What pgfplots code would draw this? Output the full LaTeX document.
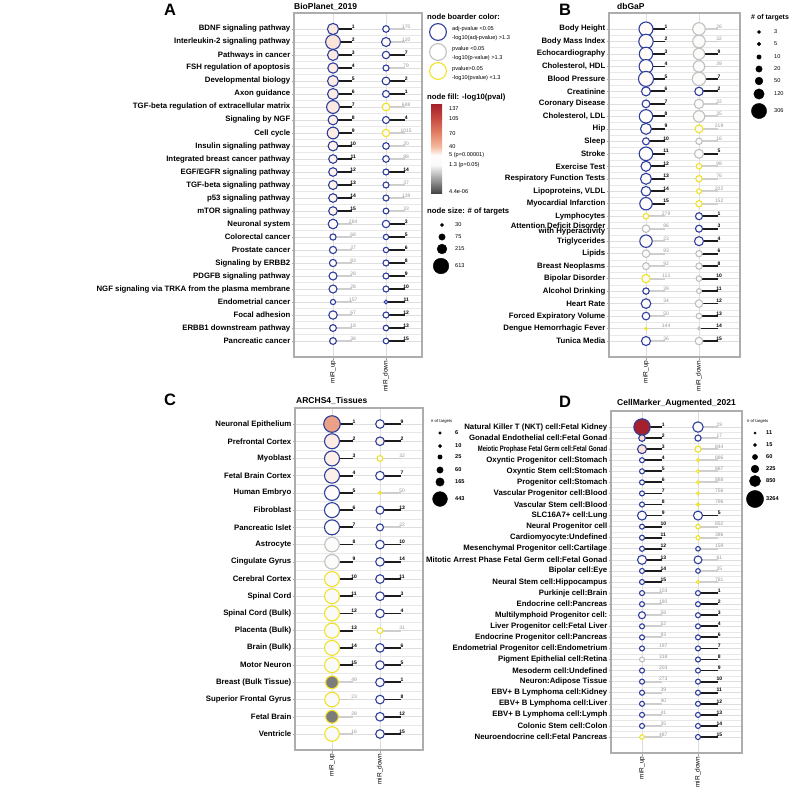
\documentclass[border=0pt]{standalone}
\usepackage{fontspec}
\setmainfont{Liberation Sans}
\usepackage{graphicx}
\usepackage{pgfplots}
\usepackage{pgfplotstable}
\pgfplotsset{compat=1.18}

% border colours of the nodes
\definecolor{bdB}{RGB}{46,62,156}
\definecolor{bdG}{RGB}{192,192,192}
\definecolor{bdY}{RGB}{240,226,40}
% segments and their labels
\definecolor{segK}{RGB}{28,28,28}
\definecolor{segG}{RGB}{206,206,206}
\definecolor{labG}{RGB}{150,150,150}
% fill scale stops (-log10 p)
\definecolor{cm0}{RGB}{70,70,70}
\definecolor{cm1}{RGB}{250,250,250}
\definecolor{cm2}{RGB}{255,253,251}
\definecolor{cm3}{RGB}{245,188,162}
\definecolor{cm4}{RGB}{228,132,104}
\definecolor{cm5}{RGB}{200,76,66}
\definecolor{cm6}{RGB}{165,32,44}

\pgfplotsset{colormap={fillmap}{rgb255(0pt)=(70,70,70) rgb255(1pt)=(250,250,250) rgb255(5pt)=(255,253,251) rgb255(40pt)=(245,188,162) rgb255(70pt)=(228,132,104) rgb255(105pt)=(200,76,66) rgb255(137pt)=(165,32,44)}}

\newcommand\rowfont{\fontsize{7.8}{8}\selectfont\bfseries}
\newcommand\labfont{\fontsize{5}{5}\selectfont}
\newcommand\legfont{\fontsize{5.6}{6}\selectfont}
\newcommand\headfont{\fontsize{7.7}{8}\selectfont\bfseries}

\pgfplotsset{
  panel/.style={
    scale only axis, anchor=north west, y dir=reverse,
    xtick={0,1}, xticklabels={miR\_up,miR\_down},
    xticklabel style={rotate=90, anchor=east, font=\fontsize{6.5}{7}\selectfont, inner sep=1pt},
    yticklabel style={font=\rowfont, inner sep=1pt, align=right},
    tick align=outside, major tick length=2.5pt, minor tick length=0pt,
    xtick pos=left, ytick pos=left,
    tick style={draw=black!35, line width=0.5pt},
    minor y tick num=1,
    grid=both,
    major grid style={draw=black!13, line width=0.6pt},
    minor grid style={draw=black!9, line width=0.45pt},
    axis line style={draw=black!32, line width=1.3pt},
    clip=false,
  },
  % nodes of one border class: #1 border colour, #2 range of the class code
  pts/.style 2 args={
    scatter, only marks, mark=*,
    point meta=\thisrow{fv}, point meta min=0, point meta max=137,
    colormap name=fillmap,
    visualization depends on={\thisrow{r}\as\rr},
    scatter/use mapped color={fill=mapped color, draw=#1, line width=1.1pt},
    scatter/@pre marker code/.append style={/tikz/mark size=\rr},
    restrict expr to domain={\thisrow{bc}}{#2},
  },
  topseg/.style={draw=segK, line width=1.8pt, quiver={u=#1, v=0},
    restrict expr to domain={\thisrow{hi}}{0.5:1.5}},
  restseg/.style={draw=segG, line width=1.8pt, quiver={u=#1, v=0},
    restrict expr to domain={\thisrow{hi}}{-0.5:0.5}},
  toplab/.style={only marks, mark=none, nodes near coords, point meta=explicit symbolic,
    nodes near coords align=horizontal,
    every node near coord/.append style={font=\labfont\bfseries, text=black, inner sep=0.6pt},
    restrict expr to domain={\thisrow{hi}}{0.5:1.5}},
  restlab/.style={only marks, mark=none, nodes near coords, point meta=explicit symbolic,
    nodes near coords align=horizontal,
    every node near coord/.append style={font=\labfont, text=labG, inner sep=0.6pt},
    restrict expr to domain={\thisrow{hi}}{-0.5:0.5}},
}

% y: row, x: 0 = miR_up, 1 = miR_down, lab: rank or target count,
% hi: ranked among the top 15, bc: border class (0 adj-p<0.05, 1 p<0.05, 2 p>0.05),
% fv: -log10(p), r: node radius
\pgfplotstableread{
y x lab hi bc fv r
1 0 1 1 0 16 5.6
2 0 2 1 0 18 7.4
3 0 3 1 0 15 5.5
4 0 4 1 0 14 5.2
5 0 5 1 0 14 5.5
6 0 6 1 0 14 5.5
7 0 7 1 0 15 6.4
8 0 8 1 0 12 4.9
9 0 9 1 0 14 5.8
10 0 10 1 0 11 4.9
11 0 11 1 0 10 4.3
12 0 12 1 0 10 4.3
13 0 13 1 0 10 4.5
14 0 14 1 0 10 4.3
15 0 15 1 0 10 4.3
16 0 284 0 0 4 4.8
17 0 68 0 0 4 3.1
18 0 37 0 0 4 3.6
19 0 83 0 0 4 3.6
20 0 28 0 0 4 4.0
21 0 28 0 0 4 4.0
22 0 157 0 0 4 2.6
23 0 67 0 0 4 4.2
24 0 18 0 0 4 3.4
25 0 38 0 0 4 3.4
1 1 170 0 0 4 3.3
2 1 120 0 0 4 4.5
3 1 7 1 0 6 3.7
4 1 79 0 0 4 3.0
5 1 2 1 0 7 3.9
6 1 1 1 0 7 3.5
7 1 688 0 2 1.2 3.9
8 1 4 1 0 6 3.5
9 1 1015 0 2 1.2 3.7
10 1 20 0 0 4 3.3
11 1 88 0 0 4 3.3
12 1 14 1 0 5 3.0
13 1 37 0 0 4 3.0
14 1 139 0 0 4 3.0
15 1 33 0 0 4 2.9
16 1 3 1 0 6 3.7
17 1 5 1 0 6 2.7
18 1 6 1 0 6 2.7
19 1 8 1 0 6 3.0
20 1 9 1 0 6 3.0
21 1 10 1 0 5 3.0
22 1 11 1 0 5 1.9
23 1 12 1 0 5 3.0
24 1 13 1 0 5 2.8
25 1 15 1 0 5 2.8
}\tabA

\pgfplotstableread{
y x lab hi bc fv r
1 0 1 1 0 6 7.0
2 0 2 1 0 6 7.2
3 0 3 1 0 6 6.7
4 0 4 1 0 6 6.9
5 0 5 1 0 6 7.5
6 0 6 1 0 5 4.5
7 0 7 1 0 5 3.9
8 0 8 1 0 5 6.7
9 0 9 1 0 5 5.5
10 0 10 1 0 5 3.5
11 0 11 1 0 5 6.8
12 0 12 1 0 5 5.0
13 0 13 1 0 5 5.5
14 0 14 1 0 5 4.8
15 0 15 1 0 5 6.2
16 0 279 0 2 1.2 2.8
17 0 86 0 1 2 3.8
18 0 23 0 0 4 6.2
19 0 93 0 1 2 3.8
20 0 92 0 1 2 3.5
21 0 113 0 2 1.2 4.2
22 0 39 0 0 4 3.2
23 0 34 0 0 4 4.8
24 0 50 0 0 4 3.8
25 0 144 0 2 1.2 1.2
26 0 36 0 0 4 4.5
1 1 26 0 1 2 6.3
2 1 32 0 1 2 6.3
3 1 9 1 1 2 5.7
4 1 39 0 1 2 5.7
5 1 7 1 1 2 6.7
6 1 2 1 0 4 4.2
7 1 22 0 1 2 4.7
8 1 35 0 1 2 5.7
9 1 219 0 2 1.2 4.0
10 1 16 0 1 2 3.2
11 1 5 1 1 2 4.5
12 1 98 0 2 1.2 2.8
13 1 76 0 2 1.2 3.2
14 1 202 0 2 1.2 2.5
15 1 152 0 2 1.2 3.2
16 1 1 1 0 4 3.5
17 1 3 1 0 4 3.5
18 1 4 1 0 4 4.5
19 1 6 1 1 2 3.2
20 1 8 1 1 2 3.2
21 1 10 1 1 2 2.8
22 1 11 1 1 2 2.5
23 1 12 1 1 2 3.8
24 1 13 1 1 2 2.8
25 1 14 1 1 2 1.3
26 1 15 1 1 2 3.8
}\tabB

\pgfplotstableread{
y x lab hi bc fv r
1 0 1 1 0 55 8.3
2 0 2 1 0 14 7.5
3 0 3 1 0 12 7.5
4 0 4 1 0 12 7.5
5 0 5 1 0 6 7.5
6 0 6 1 0 5 7.5
7 0 7 1 0 5 7.5
8 0 8 1 1 2 7.3
9 0 9 1 1 2 7.3
10 0 10 1 2 1.2 7.5
11 0 11 1 2 1.2 7.5
12 0 12 1 2 1.2 7.5
13 0 13 1 2 1.2 7.5
14 0 14 1 2 1.2 7.5
15 0 15 1 2 1.2 7.5
16 0 49 0 2 0.3 6.4
17 0 23 0 2 1.2 7.3
18 0 28 0 2 0.3 6.4
19 0 16 0 2 1.2 7.3
1 1 9 1 0 4 4.3
2 1 2 1 0 10 4.3
3 1 32 0 2 1.2 2.9
4 1 7 1 0 4 4.3
5 1 50 0 2 1.2 1.4
6 1 13 1 0 4 4.0
7 1 22 0 0 4 3.5
8 1 10 1 0 4 4.3
9 1 14 1 0 4 4.3
10 1 11 1 0 4 4.3
11 1 3 1 0 4 4.3
12 1 4 1 0 4 4.3
13 1 31 0 2 1.2 2.9
14 1 6 1 0 4 4.3
15 1 5 1 0 4 4.3
16 1 1 1 0 4 4.3
17 1 8 1 0 4 4.3
18 1 12 1 0 4 4.3
19 1 15 1 0 4 4.3
}\tabC

\pgfplotstableread{
y x lab hi bc fv r
1 0 1 1 0 137 8.2
2 0 2 1 0 22 3.3
3 0 3 1 0 20 4.5
4 0 4 1 0 5 2.5
5 0 5 1 0 5 2.5
6 0 6 1 0 5 2.5
7 0 7 1 0 5 2.5
8 0 8 1 0 5 2.5
9 0 9 1 0 5 4.5
10 0 10 1 0 5 2.5
11 0 11 1 0 5 2.5
12 0 12 1 0 5 2.5
13 0 13 1 0 5 4.5
14 0 14 1 0 5 2.5
15 0 15 1 0 5 2.5
16 0 103 0 0 4 2.5
17 0 180 0 0 4 2.5
18 0 58 0 0 4 3.5
19 0 52 0 0 4 2.5
20 0 93 0 0 4 2.5
21 0 197 0 0 4 2.5
22 0 318 0 1 2 2.5
23 0 203 0 0 4 2.5
24 0 273 0 0 4 2.5
25 0 39 0 0 4 2.5
26 0 40 0 0 4 2.5
27 0 41 0 0 4 2.5
28 0 35 0 0 4 2.5
29 0 487 0 2 1.2 2.3
1 1 19 0 0 4 5.2
2 1 17 0 0 4 3.1
3 1 844 0 2 1.2 3.1
4 1 886 0 2 1.2 1.5
5 1 887 0 2 1.2 1.5
6 1 888 0 2 1.2 1.5
7 1 756 0 2 1.2 1.5
8 1 796 0 2 1.2 1.5
9 1 5 1 0 4 4.5
10 1 852 0 2 1.2 2.3
11 1 386 0 2 1.2 2.1
12 1 159 0 0 4 2.3
13 1 61 0 0 4 3.9
14 1 35 0 0 4 2.3
15 1 781 0 2 1.2 1.7
16 1 1 1 0 4 2.5
17 1 2 1 0 4 2.5
18 1 3 1 0 4 2.5
19 1 4 1 0 4 2.5
20 1 6 1 0 4 2.5
21 1 7 1 0 4 2.5
22 1 8 1 0 4 2.5
23 1 9 1 0 4 2.5
24 1 10 1 0 4 2.5
25 1 11 1 0 4 2.5
26 1 12 1 0 4 2.5
27 1 13 1 0 4 2.5
28 1 14 1 0 4 2.5
29 1 15 1 0 4 2.5
}\tabD

% size keys: x, y position of each key node, its radius
\pgfplotstableread{
x y r
442 225 1.6
442 237 3.2
442 249 4.9
441 266 7.8
759 32 1.6
759 44 1.9
759 57 2.2
759 69 3.2
759 81 3.9
759 94 5.2
759 111 7.6
440 433 1.4
440 446 1.7
440 457 2.2
440 470 3.2
440 482 4.2
440 499 7.4
755 433 1.2
755 445 1.6
755 457 2.6
755 469 3.9
755 481 5.6
755 499 8.6
}\tabKeys

\newcommand\keylab[3]{\node[font=#3, anchor=west, inner sep=0pt] at (axis cs:#1) {#2};}
% the layers of one panel: nodes by border class, segments, labels
\newcommand\drawpanel[3]{%
  \addplot[pts={bdB}{-0.5:0.5}] table[x=x, y=y] #1;
  \addplot[pts={bdG}{0.5:1.5}] table[x=x, y=y] #1;
  \addplot[pts={bdY}{1.5:2.5}] table[x=x, y=y] #1;
  \addplot[restseg=#2] table[x=x, y=y] #1;
  \addplot[topseg=#2] table[x=x, y=y] #1;
  \addplot[restlab] table[x expr=\thisrow{x}+#3, y=y, meta=lab] #1;
  \addplot[toplab] table[x expr=\thisrow{x}+#3, y=y, meta=lab] #1;
}

\begin{document}
\begin{tikzpicture}
\path[use as bounding box] (0pt,0pt) rectangle (794pt,-786pt);

% ---------------- A: BioPlanet_2019
\begin{axis}[panel, at={(294pt,-13pt)}, width=128pt, height=344pt,
  xmin=-0.736, xmax=1.679, ymin=-0.23, ymax=26.23,
  ytick={1,...,25},
  yticklabels={BDNF signaling pathway, Interleukin-2 signaling pathway, Pathways in cancer,
    FSH regulation of apoptosis, Developmental biology, Axon guidance,
    TGF-beta regulation of extracellular matrix, Signaling by NGF, Cell cycle,
    Insulin signaling pathway, Integrated breast cancer pathway, EGF/EGFR signaling pathway,
    TGF-beta signaling pathway, p53 signaling pathway, mTOR signaling pathway,
    Neuronal system, Colorectal cancer, Prostate cancer, Signaling by ERBB2,
    PDGFB signaling pathway, NGF signaling via TRKA from the plasma membrane,
    Endometrial cancer, Focal adhesion, ERBB1 downstream pathway, Pancreatic cancer}]
\drawpanel{\tabA}{0.36}{0.38}
\end{axis}

% ---------------- B: dbGaP
\begin{axis}[panel, at={(609pt,-13pt)}, width=131pt, height=344pt,
  xmin=-0.698, xmax=1.774, ymin=-0.28, ymax=27.28,
  ytick={1,...,26},
  yticklabels={Body Height, Body Mass Index, Echocardiography, {Cholesterol, HDL},
    Blood Pressure, Creatinine, Coronary Disease, {Cholesterol, LDL}, Hip, Sleep, Stroke,
    Exercise Test, Respiratory Function Tests, {Lipoproteins, VLDL}, Myocardial Infarction,
    Lymphocytes, {Attention Deficit Disorder\\[-2.8pt]with Hyperactivity}, Triglycerides, Lipids,
    Breast Neoplasms, Bipolar Disorder, Alcohol Drinking, Heart Rate,
    Forced Expiratory Volume, Dengue Hemorrhagic Fever, Tunica Media}]
\drawpanel{\tabB}{0.36}{0.38}
\end{axis}

% ---------------- C: ARCHS4_Tissues
\begin{axis}[panel, at={(295pt,-408pt)}, width=128pt, height=342pt,
  xmin=-0.771, xmax=1.896, ymin=0.07, ymax=19.93,
  ytick={1,...,19},
  yticklabels={Neuronal Epithelium, Prefrontal Cortex, Myoblast, Fetal Brain Cortex,
    Human Embryo, Fibroblast, Pancreatic Islet, Astrocyte, Cingulate Gyrus,
    Cerebral Cortex, Spinal Cord, Spinal Cord (Bulk), Placenta (Bulk), Brain (Bulk),
    Motor Neuron, Breast (Bulk Tissue), Superior Frontal Gyrus, Fetal Brain, Ventricle}]
\drawpanel{\tabC}{0.44}{0.46}
\end{axis}

% ---------------- D: CellMarker_Augmented_2021
\begin{axis}[panel, at={(611pt,-411pt)}, width=131pt, height=342pt,
  xmin=-0.554, xmax=1.786, ymin=-0.445, ymax=30.445,
  ytick={1,...,29},
  yticklabels={Natural Killer T (NKT) cell:Fetal Kidney, Gonadal Endothelial cell:Fetal Gonad,
    \scalebox{0.76}[1]{Meiotic Prophase Fetal Germ cell:Fetal Gonad},
    Oxyntic Progenitor cell:Stomach, Oxyntic Stem cell:Stomach, Progenitor cell:Stomach,
    Vascular Progenitor cell:Blood, Vascular Stem cell:Blood, SLC16A7+ cell:Lung,
    Neural Progenitor cell, Cardiomyocyte:Undefined, Mesenchymal Progenitor cell:Cartilage,
    Mitotic Arrest Phase Fetal Germ cell:Fetal Gonad, Bipolar cell:Eye,
    Neural Stem cell:Hippocampus, Purkinje cell:Brain, Endocrine cell:Pancreas,
    Multilymphoid Progenitor cell:, Liver Progenitor cell:Fetal Liver,
    Endocrine Progenitor cell:Pancreas, Endometrial Progenitor cell:Endometrium,
    Pigment Epithelial cell:Retina, Mesoderm cell:Undefined, Neuron:Adipose Tissue,
    EBV+ B Lymphoma cell:Kidney, EBV+ B Lymphoma cell:Liver, EBV+ B Lymphoma cell:Lymph,
    Colonic Stem cell:Colon, Neuroendocrine cell:Fetal Pancreas}]
\drawpanel{\tabD}{0.36}{0.38}
\end{axis}

% ---------------- titles, panel letters and legends (page coordinates, y downwards)
\begin{axis}[at={(0pt,0pt)}, anchor=north west, scale only axis, width=794pt, height=786pt,
  xmin=0, xmax=794, ymin=0, ymax=786, y dir=reverse, hide axis, clip=false]
\node[font=\fontsize{16.5}{18}\selectfont\bfseries, inner sep=0pt] at (axis cs:170,10) {A};
\node[font=\fontsize{16.5}{18}\selectfont\bfseries, inner sep=0pt] at (axis cs:565,10) {B};
\node[font=\fontsize{16.5}{18}\selectfont\bfseries, inner sep=0pt] at (axis cs:170,400) {C};
\node[font=\fontsize{16.5}{18}\selectfont\bfseries, inner sep=0pt] at (axis cs:565,402) {D};
\node[font=\fontsize{8.5}{9}\selectfont\bfseries, anchor=base west, inner sep=0pt] at (axis cs:294,9) {BioPlanet\_2019};
\node[font=\fontsize{8.5}{9}\selectfont\bfseries, anchor=base west, inner sep=0pt] at (axis cs:617,9) {dbGaP};
\node[font=\fontsize{8.5}{9}\selectfont\bfseries, anchor=base west, inner sep=0pt] at (axis cs:296,403) {ARCHS4\_Tissues};
\node[font=\fontsize{8.5}{9}\selectfont\bfseries, anchor=base west, inner sep=0pt] at (axis cs:617,405) {CellMarker\_Augmented\_2021};

% border colour key
\node[font=\headfont, anchor=west, inner sep=0pt] at (axis cs:427,17) {node boarder color:};
\addplot[only marks, mark=*, mark size=8.4pt, mark options={draw=bdB, fill=white, line width=1.1pt}] coordinates {(438,32)};
\addplot[only marks, mark=*, mark size=8.4pt, mark options={draw=bdG, fill=white, line width=1.1pt}] coordinates {(438,52)};
\addplot[only marks, mark=*, mark size=8.4pt, mark options={draw=bdY, fill=white, line width=1.1pt}] coordinates {(438,71)};
\keylab{452,29}{adj-pvalue <0.05}{\legfont}
\keylab{452,38}{-log10(adj-pvalue) >1.3}{\legfont}
\keylab{452,49}{pvalue <0.05}{\legfont}
\keylab{452,58}{-log10(p-value) >1.3}{\legfont}
\keylab{452,69}{pvalue>0.05}{\legfont}
\keylab{452,78}{-log10(pvalue) <1.3}{\legfont}

% fill colour key
\keylab{427,98}{node fill: -log10(pval)}{\headfont}
\shade[top color=cm6, bottom color=cm5] (axis cs:431,104) rectangle (axis cs:442,119.3);
\shade[top color=cm5, bottom color=cm4] (axis cs:431,119) rectangle (axis cs:442,134.3);
\shade[top color=cm4, bottom color=cm3] (axis cs:431,134) rectangle (axis cs:442,147.3);
\shade[top color=cm3, bottom color=cm2] (axis cs:431,147) rectangle (axis cs:442,155.3);
\shade[top color=cm2, bottom color=cm1] (axis cs:431,155) rectangle (axis cs:442,165.3);
\shade[top color=cm1, bottom color=cm0] (axis cs:431,165) rectangle (axis cs:442,193);
\keylab{449,109}{137}{\legfont}
\keylab{449,119}{105}{\legfont}
\keylab{449,134}{70}{\legfont}
\keylab{449,147}{40}{\legfont}
\keylab{449,155}{5 (p=0.00001)}{\legfont}
\keylab{449,165}{1.3 (p=0.05)}{\legfont}
\keylab{449,192}{4.4e-06}{\legfont}

% node size keys
\keylab{427,212}{node size: \# of targets}{\headfont}
\keylab{751,18}{\# of targets}{\fontsize{7}{8}\selectfont\bfseries}
\keylab{431,421}{\# of targets}{\fontsize{4.2}{5}\selectfont}
\keylab{747,421}{\# of targets}{\fontsize{4.2}{5}\selectfont}
\addplot[scatter, only marks, mark=*, point meta=\thisrow{r},
  scatter/use mapped color={draw=black, fill=black},
  visualization depends on={\thisrow{r}\as\rr},
  scatter/@pre marker code/.append style={/tikz/mark size=\rr}]
  table[x=x, y=y] \tabKeys;
\keylab{455,225}{30}{\legfont}
\keylab{455,237}{75}{\legfont}
\keylab{455,249}{215}{\legfont}
\keylab{455,266}{613}{\legfont}
\keylab{774,32}{3}{\legfont}
\keylab{774,44}{5}{\legfont}
\keylab{774,57}{10}{\legfont}
\keylab{774,69}{20}{\legfont}
\keylab{774,81}{50}{\legfont}
\keylab{774,94}{120}{\legfont}
\keylab{774,111}{306}{\legfont}
\keylab{455,433}{6}{\legfont\bfseries}
\keylab{455,446}{10}{\legfont\bfseries}
\keylab{455,457}{25}{\legfont\bfseries}
\keylab{455,470}{60}{\legfont\bfseries}
\keylab{455,482}{165}{\legfont\bfseries}
\keylab{455,499}{443}{\legfont\bfseries}
\keylab{766,433}{11}{\legfont\bfseries}
\keylab{766,445}{15}{\legfont\bfseries}
\keylab{766,457}{60}{\legfont\bfseries}
\keylab{766,469}{225}{\legfont\bfseries}
\keylab{766,481}{850}{\legfont\bfseries}
\keylab{766,499}{3264}{\legfont\bfseries}
\end{axis}
\end{tikzpicture}
\end{document}
